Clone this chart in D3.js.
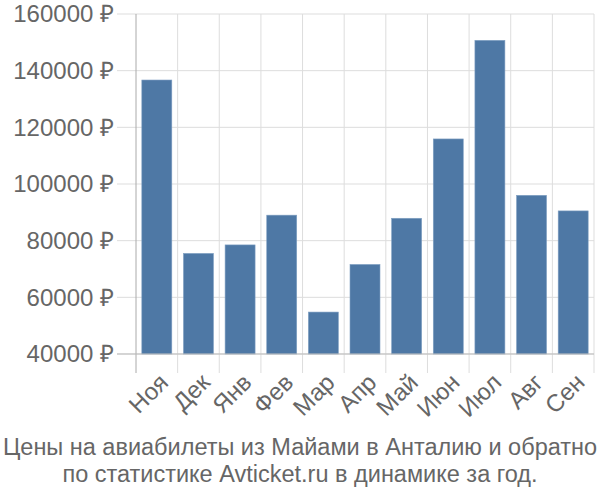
<!DOCTYPE html>
<html><head><meta charset="utf-8">
<script src="https://cdn.jsdelivr.net/npm/d3@7"></script>
<style>body{margin:0;background:#fff}svg text{font-family:"Liberation Sans",Arial,sans-serif;fill:#666}</style>
</head><body><svg id="c" width="600" height="500"></svg>
<script>
const categories = ["Ноя","Дек","Янв","Фев","Мар","Апр","Май","Июн","Июл","Авг","Сен"];
const values = [136700, 75500, 78500, 89000, 54800, 71600, 87900, 115900, 150700, 96000, 90500];
const yTicks = [40000, 60000, 80000, 100000, 120000, 140000, 160000];
const titleLines = ["Цены на авиабилеты из Майами в Анталию и обратно", "по статистике Avticket.ru в динамике за год."];

const svg = d3.select("#c");
const L = 136, R = 594, T = 14, B = 354;
const x = d3.scaleBand().domain(categories).range([L, R]).paddingInner(0.28).paddingOuter(0.14);
const xb = d3.scaleBand().domain(categories).range([L, R]);
const y = d3.scaleLinear().domain([40000, 160000]).range([B, T]);

// horizontal grid + y tick marks
svg.append("g").selectAll("line").data(yTicks).join("line")
  .attr("x1", 117).attr("x2", R).attr("y1", d => y(d)).attr("y2", d => y(d))
  .attr("stroke", "#dddddd").attr("stroke-width", 1);
// vertical grid
const vx = categories.map(c => xb(c)).concat([R]);
svg.append("g").selectAll("line").data(vx.slice(1)).join("line")
  .attr("x1", d => d).attr("x2", d => d).attr("y1", T).attr("y2", 373)
  .attr("stroke", "#dddddd").attr("stroke-width", 1);

// bars
svg.append("g").selectAll("rect").data(values).join("rect")
  .attr("x", (d, i) => x(categories[i]))
  .attr("width", x.bandwidth())
  .attr("y", d => y(d))
  .attr("height", d => B - y(d))
  .attr("fill", "#4e78a5").attr("stroke", "#7f9fc2").attr("stroke-width", 0.6);

// axes lines
svg.append("line").attr("x1", L).attr("x2", L).attr("y1", T).attr("y2", 373).attr("stroke", "#aaaaaa");
svg.append("line").attr("x1", 117).attr("x2", R).attr("y1", B).attr("y2", B).attr("stroke", "#bbbbbb");

// y labels
svg.append("g").selectAll("text").data(yTicks).join("text")
  .attr("x", 114).attr("y", d => y(d)).attr("dy", "0.35em")
  .attr("text-anchor", "end").style("font-size", "24px")
  .text(d => d + " ₽");

// x labels
svg.append("g").selectAll("text").data(categories).join("text")
  .attr("transform", d => `translate(${x(d) + x.bandwidth() / 2 + 7},${378}) rotate(-45)`)
  .attr("text-anchor", "end").attr("dy", "0.35em").style("font-size", "24px")
  .text(d => d);

// title
svg.append("g").selectAll("text").data(titleLines).join("text")
  .attr("x", 300).attr("y", (d, i) => 455 + i * 27)
  .attr("text-anchor", "middle").style("font-size", "23.5px")
  .text(d => d);
</script></body></html>
